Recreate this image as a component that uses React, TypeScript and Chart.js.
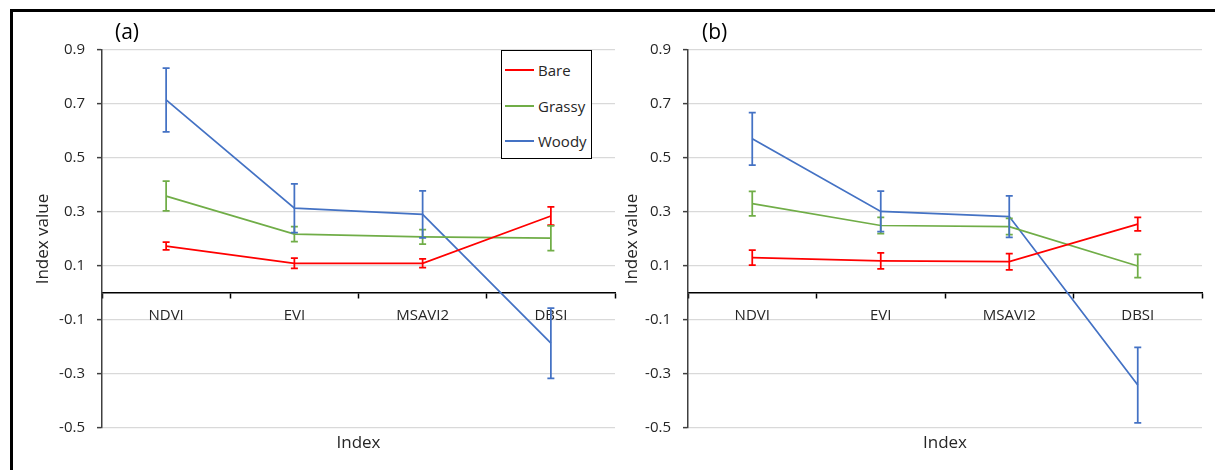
import React, { useEffect, useRef } from "react";
import { Chart, registerables } from "chart.js";

Chart.register(...registerables);

const categories = ["NDVI", "EVI", "MSAVI2", "DBSI"];
const seriesNames = ["Bare", "Grassy", "Woody"];
const seriesColors = ["#ff0000", "#70ad47", "#4472c4"];
const yTicks = [-0.5, -0.3, -0.1, 0.1, 0.3, 0.5, 0.7, 0.9];

// Panel (a)
const bareA = [0.174, 0.11, 0.11, 0.285];
const bareErrA = [0.014, 0.019, 0.016, 0.034];
const grassyA = [0.359, 0.218, 0.208, 0.203];
const grassyErrA = [0.055, 0.028, 0.027, 0.046];
const woodyA = [0.715, 0.314, 0.291, -0.186];
const woodyErrA = [0.118, 0.09, 0.087, 0.13];

// Panel (b)
const bareB = [0.131, 0.119, 0.116, 0.255];
const bareErrB = [0.028, 0.03, 0.03, 0.025];
const grassyB = [0.331, 0.25, 0.246, 0.1];
const grassyErrB = [0.045, 0.03, 0.03, 0.043];
const woodyB = [0.571, 0.302, 0.283, -0.341];
const woodyErrB = [0.097, 0.075, 0.077, 0.14];

const FONT = "'Open Sans', 'Noto Sans', sans-serif";
const TEXT = "#262626";

const errorBarPlugin = {
  id: "errorBars",
  afterDatasetsDraw(chart: any) {
    const ctx = chart.ctx;
    const xs = chart.scales.x;
    const ys = chart.scales.y;
    chart.data.datasets.forEach((ds: any) => {
      const errs: number[] = ds.errors || [];
      ctx.save();
      ctx.strokeStyle = ds.borderColor;
      ctx.lineWidth = 1.75;
      ds.data.forEach((v: number, i: number) => {
        const e = errs[i] || 0;
        const x = xs.getPixelForValue(i);
        const yt = ys.getPixelForValue(v + e);
        const yb = ys.getPixelForValue(v - e);
        ctx.beginPath();
        ctx.moveTo(x, yt);
        ctx.lineTo(x, yb);
        ctx.moveTo(x - 3.5, yt);
        ctx.lineTo(x + 3.5, yt);
        ctx.moveTo(x - 3.5, yb);
        ctx.lineTo(x + 3.5, yb);
        ctx.stroke();
      });
      ctx.restore();
    });
  },
};

const panelLabelPlugin = {
  id: "panelLabel",
  afterDraw(chart: any, _args: any, opts: any) {
    const ctx = chart.ctx;
    ctx.save();
    ctx.font = `21px ${FONT}`;
    ctx.fillStyle = "#000";
    ctx.textBaseline = "middle";
    ctx.textAlign = "left";
    ctx.fillText(opts.text, opts.x, opts.y);
    ctx.restore();
  },
};

type PanelProps = {
  left: number;
  width: number;
  yWidth: number;
  titlePad: number;
  rightPad: number;
  label: string;
  labelX: number;
  bare: number[];
  bareErr: number[];
  grassy: number[];
  grassyErr: number[];
  woody: number[];
  woodyErr: number[];
};

function Panel(p: PanelProps) {
  const ref = useRef<HTMLCanvasElement | null>(null);
  useEffect(() => {
    if (!ref.current) return;
    const values = [p.bare, p.grassy, p.woody];
    const errs = [p.bareErr, p.grassyErr, p.woodyErr];
    const chart = new Chart(ref.current, {
      type: "line",
      data: {
        labels: categories,
        datasets: seriesNames.map((name, i) => ({
          label: name,
          data: values[i],
          errors: errs[i],
          borderColor: seriesColors[i],
          backgroundColor: seriesColors[i],
          borderWidth: 1.75,
          pointRadius: 0,
          tension: 0,
          fill: false,
        })) as any,
      },
      options: {
        responsive: false,
        maintainAspectRatio: false,
        animation: false,
        layout: { padding: { left: 0, right: p.rightPad, top: 50, bottom: 0 } },
        plugins: {
          legend: { display: false },
          tooltip: { enabled: false },
          panelLabel: { text: p.label, x: p.labelX, y: 33 },
        } as any,
        scales: {
          x: {
            type: "category",
            position: { y: 0 } as any,
            offset: true,
            grid: {
              offset: true,
              drawOnChartArea: false,
              tickLength: 5,
              tickColor: "#000",
              tickWidth: 1.5,
            },
            border: { color: "#000", width: 1.5 },
            ticks: {
              padding: 9,
              color: TEXT,
              font: { family: FONT, size: 15 },
              maxRotation: 0,
              autoSkip: false,
            },
          },
          x2: {
            type: "category",
            labels: categories,
            position: "bottom",
            grid: { display: false },
            border: { display: false },
            ticks: { display: false },
            title: {
              display: true,
              text: "Index",
              color: TEXT,
              font: { family: FONT, size: 17 },
              padding: { top: 0, bottom: 17 },
            },
            afterFit: (s: any) => {
              s.height = 42;
            },
          },
          y: {
            type: "linear",
            min: -0.5,
            max: 0.9,
            afterBuildTicks: (s: any) => {
              s.ticks = yTicks.map((v) => ({ value: v }));
            },
            afterFit: (s: any) => {
              s.width = p.yWidth;
            },
            grid: {
              color: "#d9d9d9",
              lineWidth: 1.25,
              tickLength: 5,
              tickColor: "#404040",
              tickWidth: 1.5,
            },
            border: { color: "#404040", width: 1.5 },
            ticks: {
              padding: 12,
              color: TEXT,
              font: { family: FONT, size: 15 },
              callback: (v: any) => Number(v).toFixed(1),
            },
            title: {
              display: true,
              text: "Index value",
              color: TEXT,
              font: { family: FONT, size: 17 },
              padding: { top: p.titlePad, bottom: 0 },
            },
          },
        } as any,
      },
      plugins: [errorBarPlugin, panelLabelPlugin],
    });
    return () => chart.destroy();
  }, []);
  return (
    <canvas
      ref={ref}
      width={p.width}
      height={470}
      style={{ position: "absolute", left: p.left, top: 0, width: p.width, height: 470, display: "block" }}
    />
  );
}

function Legend() {
  const rowTops = [69, 105, 140];
  return (
    <div
      style={{
        position: "absolute",
        left: 501,
        top: 50,
        width: 89,
        height: 107,
        border: "1.5px solid #000",
        background: "#fff",
        fontFamily: FONT,
        fontSize: 15,
        color: TEXT,
      }}
    >
      {seriesNames.map((name, i) => (
        <div
          key={name}
          style={{
            position: "absolute",
            left: 0,
            top: rowTops[i] - 50 - 10,
            height: 20,
            display: "flex",
            alignItems: "center",
          }}
        >
          <div style={{ width: 29, height: 1.75, background: seriesColors[i], marginLeft: 3, marginRight: 4 }} />
          <span style={{ lineHeight: "20px" }}>{name}</span>
        </div>
      ))}
    </div>
  );
}

export default function App() {
  return (
    <div
      style={{
        position: "absolute",
        left: 0,
        top: 0,
        width: 1215,
        height: 470,
        overflow: "hidden",
        background: "#fff",
      }}
    >
      <Panel
        left={0}
        width={620}
        yWidth={102}
        titlePad={33}
        rightPad={5}
        label="(a)"
        labelX={115}
        bare={bareA}
        bareErr={bareErrA}
        grassy={grassyA}
        grassyErr={grassyErrA}
        woody={woodyA}
        woodyErr={woodyErrA}
      />
      <Panel
        left={620}
        width={595}
        yWidth={68}
        titlePad={2}
        rightPad={13}
        label="(b)"
        labelX={82}
        bare={bareB}
        bareErr={bareErrB}
        grassy={grassyB}
        grassyErr={grassyErrB}
        woody={woodyB}
        woodyErr={woodyErrB}
      />
      <Legend />
      <div style={{ position: "absolute", left: 10, top: 9, width: 1300, height: 2.5, background: "#000" }} />
      <div style={{ position: "absolute", left: 10, top: 9, width: 2.5, height: 500, background: "#000" }} />
    </div>
  );
}
